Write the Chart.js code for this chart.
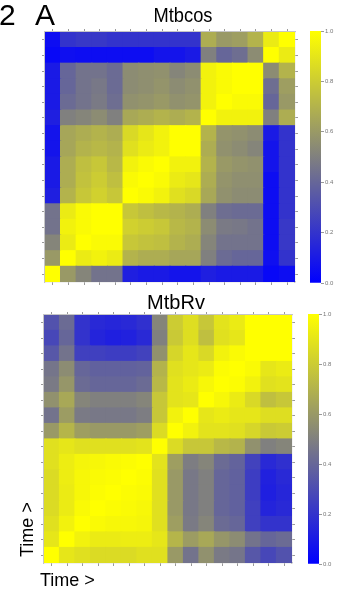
<!DOCTYPE html>
<html>
<head>
<meta charset="utf-8">
<script src="https://cdn.jsdelivr.net/npm/chart.js@4.4.0/dist/chart.umd.min.js"></script>
<style>
  html, body { margin: 0; padding: 0; background: #fff; }
  #page { position: relative; width: 340px; height: 591px; overflow: hidden; font-family: "Liberation Sans", Arial, sans-serif; }
  #page canvas { position: absolute; left: 0; top: 0; }
  .lbl { position: absolute; white-space: nowrap; color: #000; line-height: 1; }
</style>
</head>
<body>
<div id="page">
  <canvas id="cosMap" width="340" height="591"></canvas>
  <canvas id="cosBar" width="340" height="591"></canvas>
  <canvas id="rvMap" width="340" height="591"></canvas>
  <canvas id="rvBar" width="340" height="591"></canvas>

  <div class="lbl" style="left:-1px; top:0px; font-size:30px;">2</div>
  <div class="lbl" style="left:35px; top:0px; font-size:30px;">A</div>
  <div class="lbl" style="left:183px; top:4px; font-size:21px; transform:translateX(-50%) scaleX(0.87);">Mtbcos</div>
  <div class="lbl" style="left:176px; top:292px; font-size:20px; transform:translateX(-50%);">MtbRv</div>
  <div class="lbl" style="left:40px; top:571px; font-size:18px;">Time &gt;</div>
  <div class="lbl" style="left:18px; top:557px; font-size:18px; transform-origin:0 0; transform:rotate(-90deg);">Time &gt;</div>
</div>

<script>
/* time points along both axes (16 samples, labels not printed) */
var timeLabels = ['t1', 't2', 't3', 't4', 't5', 't6', 't7', 't8',
                  't9', 't10', 't11', 't12', 't13', 't14', 't15', 't16'];

/* colour bar tick labels */
var scaleTicks = [0.0, 0.2, 0.4, 0.6, 0.8, 1.0];

/* Mtbcos correlation between time points (row k = time point k, symmetric) */
var mtbcosRows = [
  [1.00, 0.60, 0.52, 0.45, 0.45, 0.12, 0.10, 0.10, 0.08, 0.08, 0.12, 0.10, 0.10, 0.10, 0.03, 0.05],
  [0.60, 1.00, 0.92, 0.95, 0.92, 0.70, 0.68, 0.68, 0.65, 0.65, 0.50, 0.42, 0.40, 0.40, 0.06, 0.20],
  [0.52, 0.92, 1.00, 0.98, 0.98, 0.78, 0.76, 0.75, 0.70, 0.68, 0.52, 0.45, 0.45, 0.45, 0.05, 0.22],
  [0.45, 0.95, 0.98, 1.00, 1.00, 0.82, 0.80, 0.78, 0.72, 0.70, 0.55, 0.48, 0.47, 0.45, 0.05, 0.22],
  [0.45, 0.92, 0.98, 1.00, 1.00, 0.78, 0.75, 0.72, 0.70, 0.68, 0.50, 0.43, 0.42, 0.42, 0.05, 0.20],
  [0.12, 0.70, 0.78, 0.82, 0.78, 1.00, 0.98, 0.95, 0.88, 0.85, 0.66, 0.57, 0.55, 0.55, 0.05, 0.20],
  [0.10, 0.68, 0.76, 0.80, 0.75, 0.98, 1.00, 0.98, 0.92, 0.90, 0.68, 0.58, 0.56, 0.56, 0.05, 0.20],
  [0.10, 0.68, 0.75, 0.78, 0.72, 0.95, 0.98, 1.00, 0.95, 0.95, 0.70, 0.60, 0.58, 0.57, 0.08, 0.20],
  [0.08, 0.65, 0.70, 0.72, 0.70, 0.88, 0.92, 0.95, 1.00, 1.00, 0.68, 0.57, 0.55, 0.52, 0.08, 0.20],
  [0.08, 0.65, 0.68, 0.70, 0.68, 0.85, 0.90, 0.95, 1.00, 1.00, 0.70, 0.58, 0.57, 0.55, 0.10, 0.20],
  [0.12, 0.50, 0.52, 0.55, 0.50, 0.66, 0.68, 0.70, 0.68, 0.70, 1.00, 0.95, 0.95, 0.95, 0.50, 0.68],
  [0.10, 0.42, 0.45, 0.48, 0.43, 0.57, 0.58, 0.60, 0.57, 0.58, 0.95, 1.00, 0.98, 0.98, 0.40, 0.60],
  [0.10, 0.40, 0.45, 0.47, 0.42, 0.55, 0.56, 0.58, 0.55, 0.57, 0.95, 0.98, 1.00, 1.00, 0.43, 0.62],
  [0.10, 0.40, 0.45, 0.45, 0.42, 0.55, 0.56, 0.57, 0.52, 0.55, 0.95, 0.98, 1.00, 1.00, 0.55, 0.70],
  [0.03, 0.06, 0.05, 0.05, 0.05, 0.05, 0.05, 0.08, 0.08, 0.10, 0.50, 0.40, 0.43, 0.55, 1.00, 0.92],
  [0.05, 0.20, 0.22, 0.22, 0.20, 0.20, 0.20, 0.20, 0.20, 0.20, 0.68, 0.60, 0.62, 0.70, 0.92, 1.00]
];

/* MtbRv correlation between time points (row k = time point k, symmetric) */
var mtbrvRows = [
  [1.00, 0.90, 0.88, 0.86, 0.86, 0.86, 0.88, 0.88, 0.60, 0.45, 0.57, 0.48, 0.46, 0.34, 0.28, 0.32],
  [0.90, 1.00, 0.95, 0.92, 0.92, 0.93, 0.93, 0.90, 0.71, 0.61, 0.66, 0.59, 0.55, 0.45, 0.40, 0.42],
  [0.88, 0.95, 1.00, 0.98, 0.97, 0.97, 0.96, 0.88, 0.62, 0.48, 0.52, 0.42, 0.40, 0.25, 0.20, 0.20],
  [0.86, 0.92, 0.98, 1.00, 0.99, 0.98, 0.97, 0.88, 0.60, 0.47, 0.50, 0.40, 0.38, 0.25, 0.14, 0.16],
  [0.86, 0.92, 0.97, 0.99, 1.00, 0.99, 0.98, 0.88, 0.60, 0.47, 0.50, 0.40, 0.38, 0.24, 0.12, 0.15],
  [0.86, 0.93, 0.97, 0.98, 0.99, 1.00, 0.99, 0.88, 0.60, 0.47, 0.50, 0.40, 0.38, 0.24, 0.13, 0.16],
  [0.88, 0.93, 0.96, 0.97, 0.98, 0.99, 1.00, 0.89, 0.62, 0.49, 0.52, 0.42, 0.39, 0.26, 0.16, 0.19],
  [0.88, 0.90, 0.88, 0.88, 0.88, 0.88, 0.89, 1.00, 0.86, 0.78, 0.78, 0.72, 0.70, 0.57, 0.50, 0.52],
  [0.60, 0.71, 0.62, 0.60, 0.60, 0.60, 0.62, 0.86, 1.00, 0.95, 0.89, 0.89, 0.88, 0.84, 0.79, 0.80],
  [0.45, 0.61, 0.48, 0.47, 0.47, 0.47, 0.49, 0.78, 0.95, 1.00, 0.90, 0.92, 0.90, 0.90, 0.87, 0.87],
  [0.57, 0.66, 0.52, 0.50, 0.50, 0.50, 0.52, 0.78, 0.89, 0.90, 1.00, 0.97, 0.92, 0.85, 0.75, 0.78],
  [0.48, 0.59, 0.42, 0.40, 0.40, 0.40, 0.42, 0.72, 0.89, 0.92, 0.97, 1.00, 0.99, 0.95, 0.88, 0.89],
  [0.46, 0.55, 0.40, 0.38, 0.38, 0.38, 0.39, 0.70, 0.88, 0.90, 0.92, 0.99, 1.00, 0.98, 0.90, 0.92],
  [0.34, 0.45, 0.25, 0.25, 0.24, 0.24, 0.26, 0.57, 0.84, 0.90, 0.85, 0.95, 0.98, 1.00, 1.00, 1.00],
  [0.28, 0.40, 0.20, 0.14, 0.12, 0.13, 0.16, 0.50, 0.79, 0.87, 0.75, 0.88, 0.90, 1.00, 1.00, 1.00],
  [0.32, 0.42, 0.20, 0.16, 0.15, 0.16, 0.19, 0.52, 0.80, 0.87, 0.78, 0.89, 0.92, 1.00, 1.00, 1.00]
];

/* blue (0) -> grey (0.5) -> yellow (1) */
function cellColor(v) {
  var c = Math.round(255 * v);
  return 'rgb(' + c + ',' + c + ',' + (255 - c) + ')';
}

function fixThickness(axis) {
  if (axis.isHorizontal()) {
    axis.height = 3;
  } else {
    axis.width = 3;
  }
}

function centreTicks(axis) {
  axis.ticks = timeLabels.map(function (label, i) { return { value: i }; });
}

function edgeAxis(type, position) {
  var axis = {
    type: type,
    position: position,
    grid: { display: true, drawOnChartArea: false, drawTicks: true, tickLength: 3, tickColor: '#9a9a9a', offset: false },
    border: { display: true, color: '#c6c6c6', width: 1.2 },
    ticks: { display: false },
    afterFit: fixThickness
  };
  if (type === 'category') {
    axis.offset = true;
  } else {
    axis.min = -0.5;
    axis.max = 15.5;
    axis.afterBuildTicks = centreTicks;
  }
  return axis;
}

/* One floating bar per cell: dataset = row (time point), bar = column */
function drawHeatmap(id, rows, pad) {
  var datasets = rows.map(function (row, j) {
    return {
      data: timeLabels.map(function () { return [j - 0.5, j + 0.5]; }),
      backgroundColor: row.map(cellColor),
      borderWidth: 0,
      inflateAmount: 0.6,
      barPercentage: 1,
      categoryPercentage: 1
    };
  });

  new Chart(document.getElementById(id), {
    type: 'bar',
    data: { labels: timeLabels, datasets: datasets },
    options: {
      responsive: false,
      animation: false,
      events: [],
      layout: { padding: pad },
      plugins: { legend: { display: false }, tooltip: { enabled: false } },
      datasets: { bar: { grouped: false } },
      scales: {
        x: edgeAxis('category', 'bottom'),
        xTop: edgeAxis('category', 'top'),
        y: edgeAxis('linear', 'left'),
        yRight: edgeAxis('linear', 'right')
      }
    }
  });
}

function barGradient(context) {
  var area = context.chart.chartArea;
  if (!area) {
    return cellColor(0.5);
  }
  var g = context.chart.ctx.createLinearGradient(0, area.bottom, 0, area.top);
  g.addColorStop(0, cellColor(0));
  g.addColorStop(0.5, cellColor(0.5));
  g.addColorStop(1, cellColor(1));
  return g;
}

function drawColorBar(id, pad) {
  new Chart(document.getElementById(id), {
    type: 'bar',
    data: {
      labels: [''],
      datasets: [{
        data: [[0, 1]],
        backgroundColor: barGradient,
        borderWidth: 0,
        barPercentage: 1,
        categoryPercentage: 1
      }]
    },
    options: {
      responsive: false,
      animation: false,
      events: [],
      layout: { padding: pad, autoPadding: false },
      plugins: { legend: { display: false }, tooltip: { enabled: false } },
      scales: {
        x: { display: false },
        y: {
          position: 'right',
          min: 0,
          max: 1,
          afterBuildTicks: function (axis) {
            axis.ticks = scaleTicks.map(function (v) { return { value: v }; });
          },
          afterFit: function (axis) { axis.width = 19; },
          ticks: {
            padding: 1,
            color: '#777',
            font: { size: 6, family: 'Liberation Sans' },
            callback: function (v) { return Number(v).toFixed(1); }
          },
          grid: { drawOnChartArea: false, drawTicks: true, tickLength: 3, tickColor: '#999' },
          border: { display: false }
        }
      }
    }
  });
}

drawHeatmap('cosMap', mtbcosRows, { left: 42, top: 29, right: 42, bottom: 306 });
drawColorBar('cosBar', { left: 310, top: 31, right: 0, bottom: 308 });
drawHeatmap('rvMap', mtbrvRows, { left: 41, top: 312, right: 45, bottom: 25 });
drawColorBar('rvBar', { left: 308, top: 314, right: 2, bottom: 27 });
</script>
</body>
</html>
